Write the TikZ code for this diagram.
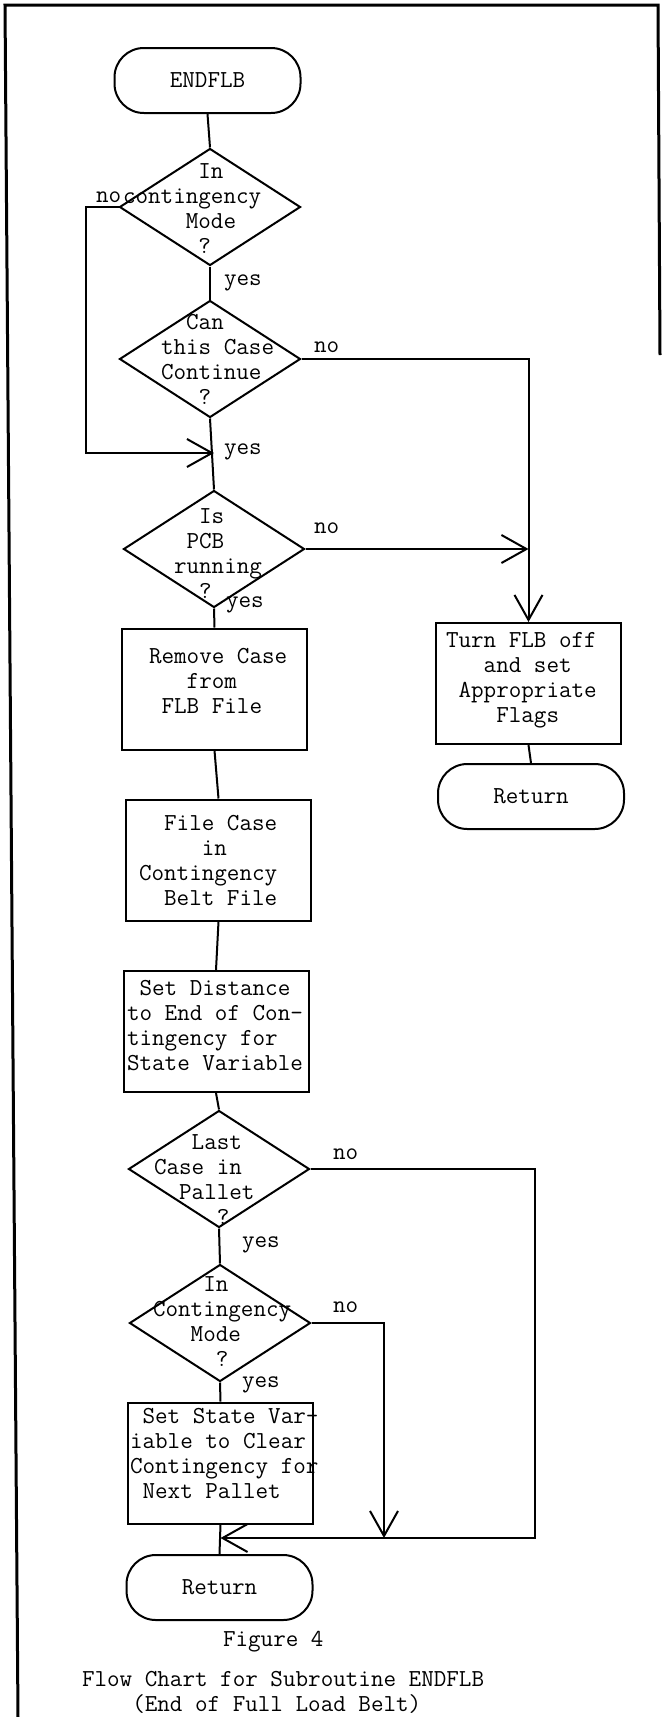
\documentclass[tikz,border=0pt]{standalone}
\usepackage{fontspec}
\usetikzlibrary{shapes.geometric,arrows.meta}

\tikzset{every picture/.style={line width=1.5pt}}
\tikzset{
  pill/.style={draw, rectangle, rounded corners=22pt, inner sep=0pt, minimum width=139.5pt, minimum height=48.75pt},
  procbox/.style={draw, rectangle, inner sep=0pt, minimum width=138.75pt, minimum height=90.75pt},
  choice/.style={draw, diamond, inner sep=0pt, minimum width=135.75pt, minimum height=87.75pt},
  txt/.style={inner sep=0pt, align=left, anchor=west},
  open arrow/.style={-{Straight Barb[length=18.75pt,width=21pt]}},
}
\newcommand\typewriter{\ttfamily\fontsize{18.3}{18.75}\selectfont\addfontfeature{FakeBold=1.4}}

\begin{document}
\begin{tikzpicture}[x=0.75pt,y=0.75pt,yscale=-1,xscale=1,every node/.style={font=\typewriter}]
\useasboundingbox (0,0) rectangle (661,1717);

%Page frame
\draw [line width=2.25pt] (18,1717) -- (5,5) -- (658,5) -- (660,355) ;

%Shape: Terminal
\node (s0) [pill] at (207.5,80.5) {ENDFLB};

%Shape: Diamond
\node (q1) [choice] at (210,207) {};
% Text Node
\node (q1t) [txt] at (122,209) {~~~~~~In\\contingency\\~~~~~Mode\\~~~~~~?};
%Shape: Diamond
\node (q2) [choice] at (210,359) {};
% Text Node
\node (q2t) [txt] at (160,359.5) {~~Can\\this Case\\Continue\\~~~?};
%Shape: Diamond
\node (q3) [choice] at (214,549) {};
% Text Node
\node (q3t) [txt] at (173,553.5) {~~Is\\~PCB\\running\\~~?};

%Shape: Rectangle
\node (b1) [procbox] at (214.5,689) {};
% Text Node
\node (b1t) [txt] at (148,681) {Remove Case\\~~~from\\~FLB File};
%Shape: Rectangle
\node (b2) [procbox] at (218.5,860) {};
% Text Node
\node (b2t) [txt] at (138,860) {~~File Case\\~~~~~in\\Contingency\\~~Belt File};
%Shape: Rectangle
\node (b3) [procbox] at (216,1031.5) {};
% Text Node
\node (b3t) [txt] at (126,1026) {~Set Distance\\to End of Con-\\tingency for\\State Variable};

%Shape: Diamond
\node (q4) [choice] at (219,1169) {};
% Text Node
\node (q4t) [txt] at (153,1180) {~~~Last\\Case in\\~~Pallet\\~~~~~?};
%Shape: Diamond
\node (q5) [choice] at (220,1323) {};
% Text Node
\node (q5t) [txt] at (152,1321.5) {~~~~In\\Contingency\\~~~Mode\\~~~~~?};

%Shape: Rectangle
\node (b5) [procbox] at (220.5,1463) {};
% Text Node
\node (b5t) [txt] at (129,1453.5) {~Set State Var-\\iable to Clear\\Contingency for\\~Next Pallet};
%Shape: Terminal
\node (e2) [pill] at (219.5,1587.5) {Return};

%Shape: Rectangle
\node (b4) [procbox] at (528.5,683.5) {};
% Text Node
\node (b4t) [txt] at (445,680) {Turn FLB off\\~~~and set\\~Appropriate\\~~~~Flags};
%Shape: Terminal
\node (e1) [pill] at (531,796.5) {Return};

% Text Node
\node (n1) [txt] at (95,197) {no};
\node (y1) [txt] at (223,283) {yes};
\node (n2) [txt] at (313,347) {no};
\node (y2) [txt] at (223,452) {yes};
\node (n3) [txt] at (313,528) {no};
\node (y3) [txt] at (225,605) {yes};
\node (n4) [txt] at (332,1154) {no};
\node (y4) [txt] at (241,1245) {yes};
\node (n5) [txt] at (332,1307) {no};
\node (y5) [txt] at (241,1385) {yes};

% Text Node
\node (cap) [txt] at (222,1642) {Figure 4};
\node (ttl) [txt] at (81,1692.5) {Flow Chart for Subroutine ENDFLB\\~~~~(End of Full Load Belt)};

%Bends of the side lines
\coordinate (l1) at (86,453);
\coordinate (c4) at (535,1538);
\coordinate (c5) at (384,1538);

%Straight Lines
\draw (s0.south) -- (q1.north) ;
\draw (q1.south) -- (q2.north) ;
\draw (q2.south) -- (q3.north) ;
\draw (q3.south) -- (b1.north) ;
\draw (b1.south) -- (b2.north) ;
\draw (b2.south) -- (b3.north) ;
\draw (b3.south) -- (q4.north) ;
\draw (q4.south) -- (q5.north) ;
\draw (q5.south) -- (b5.north) ;
\draw (b5.south) -- (e2.north) ;
\draw (b4.south) -- (e1.north) ;

%Side branches
\draw [open arrow] (q1.west) -| (l1) -- (q3.north |- l1) ;
\draw [open arrow] (q2.east) -| (b4.north) ;
\draw [open arrow] (q3.east) -- (q3.east -| b4.north) ;
\draw [open arrow] (q4.east) -| (c4) -- (c4 -| b5.south) ;
\draw [open arrow] (q5.east) -| (c5) ;

\end{tikzpicture}
\end{document}
